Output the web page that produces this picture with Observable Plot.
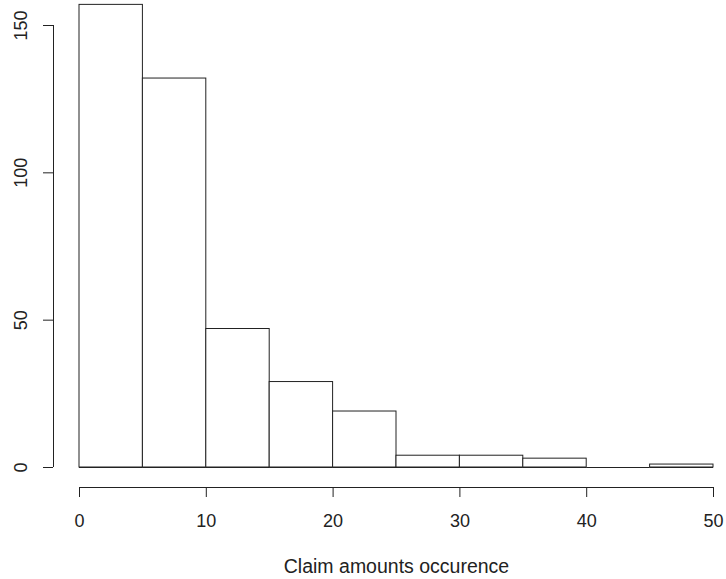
<!DOCTYPE html>
<html>
<head>
<meta charset="utf-8">
<script src="https://cdn.jsdelivr.net/npm/d3@7"></script>
<script src="https://cdn.jsdelivr.net/npm/@observablehq/plot@0.6"></script>
<style>
  body { margin: 0; background: #fff; }
  #chart svg { display: block; }
</style>
</head>
<body>
<div id="chart"></div>
<script>
const binStart = [0, 5, 10, 15, 20, 25, 30, 35, 40, 45];
const binEnd   = [5, 10, 15, 20, 25, 30, 35, 40, 45, 50];
const counts   = [157, 132, 47, 29, 19, 4, 4, 3, 0, 1];
const xTicks = [0, 10, 20, 30, 40, 50];
const yTicks = [0, 50, 100, 150];
const xTitle = "Claim amounts occurence";

const bins = binStart.map((s, i) => ({x1: s, x2: binEnd[i], y: counts[i]}));

const font = "Liberation Sans, Arial, Helvetica, sans-serif";
const fs = 18;

const chart = Plot.plot({
  width: 726,
  height: 579,
  marginLeft: 79,
  marginRight: 13,
  marginTop: 25,
  marginBottom: 112,
  style: {fontFamily: font, fontSize: fs + "px", color: "#222", background: "#fff"},
  x: {domain: [0, 50], axis: null},
  y: {domain: [0, 150], axis: null},
  marks: [
    Plot.rectY(bins, {x1: "x1", x2: "x2", y1: 0, y2: "y", fill: "white", stroke: "#222", strokeWidth: 1}),
    Plot.ruleY(bins, {x1: "x1", x2: "x2", y: 0, stroke: "#222"}),
    // x axis
    Plot.ruleY([0], {x1: 0, x2: 50, dy: 20, stroke: "#222"}),
    Plot.axisX({ticks: xTicks, tickSize: 10, tickPadding: 17, dy: 20, stroke: "#222", fill: "#222", fontSize: fs, label: null}),
    // y axis
    Plot.ruleX([0], {y1: 0, y2: 150, dx: -26, stroke: "#222"}),
    Plot.axisY({ticks: yTicks, tickSize: 10, tickFormat: () => "", dx: -26, stroke: "#222", label: null}),
    Plot.text(yTicks, {x: 0, y: d => d, text: d => String(d), rotate: -90, dx: -58, textAnchor: "middle", lineAnchor: "middle", fill: "#222", fontSize: fs}),
    // x title
    Plot.text([xTitle], {frameAnchor: "bottom", dy: 99, lineAnchor: "middle", fill: "#222", fontSize: 19.5})
  ]
});

document.getElementById("chart").append(chart);
</script>
</body>
</html>
